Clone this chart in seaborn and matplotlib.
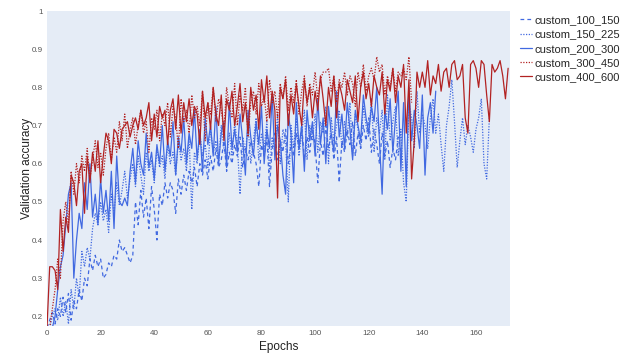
import numpy as np
import pandas as pd
import matplotlib
matplotlib.use("Agg")
import matplotlib.pyplot as plt
import seaborn as sns

# Validation accuracy per epoch
acc_100_150 = [
    0.17, 0.19, 0.21, 0.18, 0.22, 0.20, 0.25, 0.21, 0.26, 0.19, 0.24,
    0.22, 0.27, 0.24, 0.30, 0.28, 0.35, 0.32, 0.36, 0.33, 0.35,
    0.30, 0.31, 0.34, 0.33, 0.36, 0.35, 0.40, 0.37, 0.38, 0.36,
    0.34, 0.36, 0.50, 0.44, 0.53, 0.46, 0.51, 0.43, 0.54, 0.48,
    0.40, 0.52, 0.49, 0.55, 0.51, 0.55, 0.53, 0.47, 0.56, 0.52,
    0.57, 0.53, 0.58, 0.55, 0.59, 0.54, 0.60, 0.57, 0.61, 0.56,
    0.62, 0.58, 0.64, 0.59, 0.61, 0.66, 0.58, 0.63, 0.60, 0.65,
    0.62, 0.67, 0.59, 0.64, 0.61, 0.66, 0.63, 0.60, 0.54, 0.65,
    0.62, 0.67, 0.54, 0.64, 0.68, 0.61, 0.66, 0.63, 0.69, 0.60,
    0.65, 0.62, 0.68, 0.64, 0.70, 0.61, 0.67, 0.63, 0.69, 0.65,
    0.55, 0.66, 0.62, 0.70, 0.64, 0.68, 0.61, 0.67, 0.55, 0.66,
    0.63, 0.69, 0.65, 0.71, 0.62, 0.68, 0.64, 0.70, 0.66, 0.72,
    0.63, 0.69, 0.65, 0.60, 0.68, 0.62, 0.66, 0.59, 0.64, 0.61,
    0.67, 0.63,
]

acc_150_225 = [
    0.17, 0.17, 0.20, 0.22, 0.19, 0.25, 0.20, 0.24, 0.18, 0.27, 0.22,
    0.30, 0.25, 0.37, 0.33, 0.38, 0.35, 0.43, 0.47, 0.44, 0.50,
    0.45, 0.48, 0.42, 0.52, 0.47, 0.55, 0.49, 0.53, 0.58, 0.51,
    0.56, 0.60, 0.54, 0.62, 0.57, 0.52, 0.63, 0.58, 0.61, 0.55,
    0.64, 0.59, 0.62, 0.56, 0.65, 0.60, 0.63, 0.57, 0.66, 0.61,
    0.64, 0.58, 0.67, 0.48, 0.63, 0.60, 0.68, 0.62, 0.65, 0.59,
    0.69, 0.63, 0.66, 0.60, 0.70, 0.64, 0.61, 0.68, 0.62, 0.71,
    0.65, 0.52, 0.67, 0.63, 0.70, 0.60, 0.66, 0.72, 0.61, 0.68,
    0.64, 0.71, 0.58, 0.67, 0.63, 0.73, 0.60, 0.69, 0.66, 0.50,
    0.70, 0.64, 0.72, 0.62, 0.68, 0.74, 0.61, 0.70, 0.66, 0.73,
    0.63, 0.71, 0.68, 0.75, 0.60, 0.72, 0.66, 0.70, 0.74, 0.64,
    0.71, 0.67, 0.76, 0.62, 0.73, 0.69, 0.64, 0.75, 0.70, 0.67,
    0.77, 0.63, 0.72, 0.68, 0.74, 0.61, 0.78, 0.66, 0.71, 0.75,
    0.62, 0.69, 0.55, 0.50, 0.76, 0.72, 0.64, 0.79, 0.68, 0.73,
    0.70, 0.64, 0.72, 0.77, 0.68, 0.73, 0.65, 0.58, 0.70, 0.75,
    0.82, 0.71, 0.59, 0.66, 0.72, 0.65, 0.70, 0.67, 0.63, 0.69,
    0.72, 0.77, 0.60, 0.56, 0.72,
]

acc_200_300 = [
    0.17, 0.17, 0.17, 0.20, 0.27, 0.33, 0.36, 0.44, 0.52, 0.55, 0.30,
    0.40, 0.47, 0.43, 0.55, 0.48, 0.60, 0.46, 0.52, 0.44, 0.56,
    0.47, 0.53, 0.45, 0.58, 0.43, 0.62, 0.50, 0.49, 0.51, 0.49,
    0.58, 0.64, 0.55, 0.66, 0.60, 0.57, 0.68, 0.59, 0.63, 0.56,
    0.65, 0.60, 0.70, 0.58, 0.66, 0.62, 0.71, 0.57, 0.67, 0.63,
    0.72, 0.60, 0.68, 0.64, 0.74, 0.61, 0.69, 0.58, 0.72, 0.65,
    0.70, 0.62, 0.75, 0.60, 0.68, 0.71, 0.59, 0.76, 0.64, 0.69,
    0.63, 0.73, 0.66, 0.57, 0.74, 0.67, 0.62, 0.71, 0.65, 0.75,
    0.60, 0.69, 0.64, 0.78, 0.61, 0.70, 0.66, 0.57, 0.52, 0.73,
    0.68, 0.55, 0.76, 0.64, 0.70, 0.58, 0.74, 0.66, 0.71, 0.62,
    0.77, 0.65, 0.72, 0.60, 0.75, 0.68, 0.63, 0.79, 0.67, 0.73,
    0.64, 0.76, 0.69, 0.61, 0.74, 0.70, 0.66, 0.78, 0.72, 0.68,
    0.75, 0.71, 0.80, 0.66, 0.52, 0.74, 0.69, 0.77, 0.63, 0.72,
    0.79, 0.58, 0.76, 0.54, 0.80, 0.66, 0.74, 0.70, 0.64, 0.78,
    0.57, 0.72, 0.76, 0.68, 0.79,
]

acc_300_450 = [
    0.17, 0.17, 0.22, 0.27, 0.35, 0.30, 0.45, 0.50, 0.44, 0.58, 0.52,
    0.60, 0.55, 0.62, 0.58, 0.64, 0.56, 0.61, 0.66, 0.59, 0.63,
    0.57, 0.64, 0.68, 0.61, 0.67, 0.63, 0.71, 0.66, 0.73, 0.64,
    0.69, 0.72, 0.65, 0.70, 0.74, 0.68, 0.71, 0.63, 0.72, 0.69,
    0.74, 0.66, 0.73, 0.70, 0.76, 0.67, 0.75, 0.72, 0.64, 0.77,
    0.71, 0.74, 0.68, 0.78, 0.72, 0.75, 0.70, 0.79, 0.66, 0.76,
    0.73, 0.80, 0.71, 0.77, 0.74, 0.69, 0.80, 0.75, 0.72, 0.81,
    0.70, 0.78, 0.74, 0.80, 0.67, 0.76, 0.79, 0.73, 0.81, 0.75,
    0.78, 0.71, 0.82, 0.76, 0.79, 0.72, 0.81, 0.77, 0.83, 0.74,
    0.80, 0.76, 0.82, 0.73, 0.79, 0.83, 0.75, 0.81, 0.78, 0.84,
    0.77, 0.82, 0.84, 0.84, 0.85, 0.79, 0.83, 0.76, 0.82, 0.80,
    0.84, 0.78, 0.83, 0.81, 0.75, 0.84, 0.80, 0.86, 0.79, 0.83,
    0.85, 0.82, 0.88, 0.84, 0.86, 0.78, 0.83, 0.80, 0.85, 0.79,
    0.84, 0.83, 0.85, 0.82, 0.88, 0.76,
]

acc_400_600 = [
    0.17, 0.33, 0.33, 0.32, 0.27, 0.48, 0.37, 0.46, 0.42, 0.57, 0.55,
    0.49, 0.58, 0.60, 0.47, 0.62, 0.55, 0.63, 0.58, 0.66, 0.55,
    0.62, 0.68, 0.66, 0.60, 0.69, 0.68, 0.64, 0.69, 0.70, 0.71,
    0.67, 0.70, 0.72, 0.69, 0.74, 0.70, 0.72, 0.76, 0.66, 0.73,
    0.67, 0.75, 0.72, 0.74, 0.65, 0.74, 0.77, 0.69, 0.78, 0.68,
    0.76, 0.71, 0.77, 0.70, 0.75, 0.73, 0.65, 0.79, 0.72, 0.76,
    0.69, 0.80, 0.73, 0.70, 0.78, 0.66, 0.77, 0.74, 0.79, 0.70,
    0.75, 0.81, 0.71, 0.76, 0.68, 0.80, 0.74, 0.78, 0.69, 0.82,
    0.76, 0.83, 0.72, 0.79, 0.74, 0.51, 0.80, 0.77, 0.82, 0.70,
    0.78, 0.73, 0.81, 0.75, 0.70, 0.82, 0.76, 0.80, 0.72, 0.79,
    0.74, 0.83, 0.77, 0.70, 0.80, 0.75, 0.83, 0.72, 0.81, 0.78,
    0.74, 0.82, 0.79, 0.76, 0.83, 0.71, 0.80, 0.84, 0.77, 0.81,
    0.75, 0.83, 0.80, 0.78, 0.84, 0.73, 0.82, 0.79, 0.85, 0.76,
    0.83, 0.80, 0.86, 0.68, 0.82, 0.56, 0.66, 0.84, 0.80,
    0.84, 0.80, 0.87, 0.78, 0.83, 0.81, 0.86, 0.79, 0.84, 0.85,
    0.80, 0.86, 0.87, 0.82, 0.83, 0.86, 0.72, 0.68, 0.86, 0.87,
    0.85, 0.80, 0.87, 0.86, 0.78, 0.71, 0.86, 0.84, 0.85, 0.87,
    0.83, 0.77, 0.85,
]

series_names = ["custom_100_150", "custom_150_225", "custom_200_300",
                "custom_300_450", "custom_400_600"]
y_ticks = [0.2, 0.3, 0.4, 0.5, 0.6, 0.7, 0.8, 0.9, 1.0]
y_tick_labels = ["0.2", "0.3", "0.4", "0.5", "0.6", "0.7", "0.8", "0.9", "1"]
x_ticks = [0, 20, 40, 60, 80, 100, 120, 140, 160]

series_values = [acc_100_150, acc_150_225, acc_200_300, acc_300_450, acc_400_600]
colors = ["royalblue", "royalblue", "royalblue", "firebrick", "firebrick"]
styles = [(0, (3, 2.5)), (0, (1, 1.2)), "-", (0, (1, 1.2)), "-"]

sns.set_style("white", {"axes.facecolor": "#E5ECF6"})
plt.rcParams["font.family"] = ["Liberation Sans", "DejaVu Sans"]

fig, ax = plt.subplots(figsize=(6.25, 3.55), dpi=100)
fig.subplots_adjust(left=0.0752, right=0.816, bottom=0.082, top=0.969)

for name, vals, col, ls in zip(series_names, series_values, colors, styles):
    df = pd.DataFrame({"epoch": np.arange(len(vals)), "acc": vals})
    sns.lineplot(data=df, x="epoch", y="acc", ax=ax, color=col,
                 linestyle=ls, linewidth=0.9, label=name)

ax.set_xlim(0, 172.7)
ax.set_ylim(0.175, 1.0)
ax.set_yticks(y_ticks)
ax.set_yticklabels(y_tick_labels)
ax.set_xticks(x_ticks)
ax.tick_params(length=0, labelsize=5.8, labelcolor="#555555", pad=3)
ax.set_xlabel("Epochs", fontsize=8.5, color="#222222", labelpad=3)
ax.set_ylabel("Validation accuracy", fontsize=8.5, color="#222222", labelpad=-1)
sns.despine(ax=ax, left=True, bottom=True)

ax.legend(loc="upper left", bbox_to_anchor=(0.832, 0.957),
          bbox_transform=fig.transFigure, frameon=False, fontsize=8,
          borderpad=0, borderaxespad=0, handlelength=1.1,
          handletextpad=0.2, labelspacing=0.38)

plt.savefig("out.png", dpi=100)
